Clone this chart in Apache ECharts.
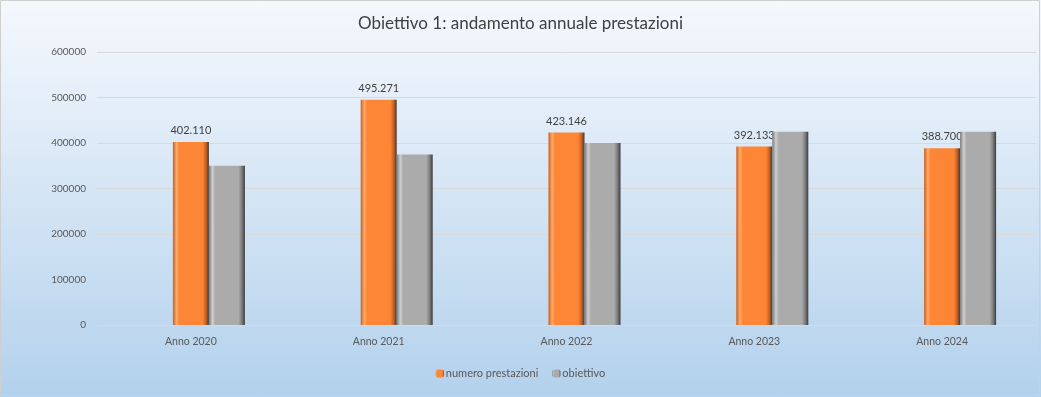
<!DOCTYPE html>
<html>
<head>
<meta charset="utf-8">
<script src="https://cdn.jsdelivr.net/npm/echarts@6/dist/echarts.min.js"></script>
<style>
  html, body { margin: 0; padding: 0; }
  #BarChartDom { width: 1041px; height: 397px; }
</style>
</head>
<body>
<div id="BarChartDom"></div>
<script>
const categories = ['Anno 2020', 'Anno 2021', 'Anno 2022', 'Anno 2023', 'Anno 2024'];
const prestazioni = [402110, 495271, 423146, 392133, 388700];
const obiettivo = [350000, 375000, 400000, 425000, 425000];
const yTicks = [0, 100000, 200000, 300000, 400000, 500000, 600000];

const fontFamily = 'Lato, "Open Sans", sans-serif';

// bevelled look: darker edges left/right
const bevel = (light, mid, dark) => new echarts.graphic.LinearGradient(0, 0, 1, 0, [
  { offset: 0, color: dark },
  { offset: 0.1, color: light },
  { offset: 0.18, color: mid },
  { offset: 0.82, color: mid },
  { offset: 0.92, color: dark },
  { offset: 1, color: '#3a3a3a' }
]);

// 402110 -> "402.110"
const itLabel = v => String(v).replace(/\B(?=(\d{3})+(?!\d))/g, '.');

const option = {
  animation: false,
  backgroundColor: new echarts.graphic.LinearGradient(0, 0, 0, 1, [
    { offset: 0, color: '#f5f8fd' },
    { offset: 1, color: '#b3d1ec' }
  ]),
  textStyle: { fontFamily: fontFamily },
  title: {
    text: 'Obiettivo 1: andamento annuale prestazioni',
    left: 'center',
    top: 10,
    textStyle: { fontFamily: fontFamily, fontSize: 17, fontWeight: 'normal', color: '#404040' }
  },
  graphic: [{
    type: 'rect',
    shape: { x: 0.5, y: 0.5, width: 1039, height: 395 },
    style: { fill: 'none', stroke: '#cfcfcf', lineWidth: 1 },
    silent: true
  }],
  legend: {
    data: ['numero prestazioni', 'obiettivo'],
    bottom: 13,
    left: 'center',
    itemWidth: 8,
    itemHeight: 8,
    itemGap: 14,
    textStyle: { fontSize: 11, color: '#595959', padding: [0, 0, 0, -3] }
  },
  grid: { left: 97, right: 5, top: 52, bottom: 72 },
  xAxis: {
    type: 'category',
    data: categories,
    axisTick: { show: false },
    axisLine: { lineStyle: { color: '#d9d9d9' } },
    axisLabel: { fontSize: 10.5, color: '#595959', margin: 11 }
  },
  yAxis: {
    type: 'value',
    min: 0,
    max: 600000,
    interval: 100000,
    axisLabel: {
      fontSize: 10, color: '#595959', margin: 11,
      customValues: yTicks,
      formatter: v => String(v)
    },
    splitLine: { lineStyle: { color: '#d9d9d9' } }
  },
  series: [
    {
      name: '',
      type: 'bar',
      data: [],
      barWidth: 36,
      barGap: 0
    },
    {
      name: 'numero prestazioni',
      type: 'bar',
      data: prestazioni,
      barWidth: 36,
      barGap: 0,
      itemStyle: { color: bevel('#ffa868', '#fd8636', '#c85f1c') },
      label: {
        show: true,
        position: 'top',
        distance: 6,
        fontSize: 11,
        color: '#404040',
        formatter: p => itLabel(p.value)
      },
      z: 2
    },
    {
      name: 'obiettivo',
      type: 'bar',
      data: obiettivo,
      barWidth: 36,
      barGap: 0,
      itemStyle: { color: bevel('#cfcfcf', '#ababab', '#7a7a7a') },
      z: 3
    }
  ]
};

const chartDom = document.getElementById('BarChartDom');
const myChart = echarts.init(chartDom);
myChart.setOption(option);
</script>
</body>
</html>
